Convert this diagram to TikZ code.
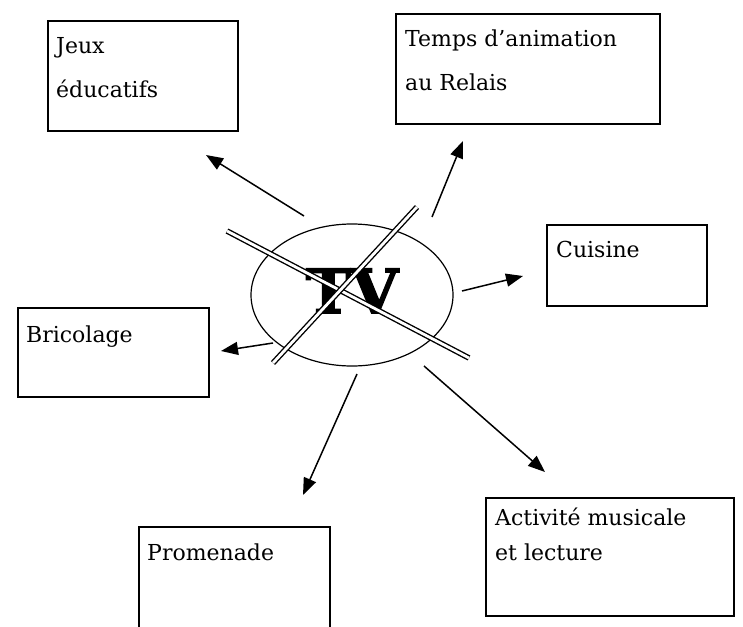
\documentclass[tikz,border=0pt]{standalone}
\usepackage{fontspec}
\setmainfont{DejaVu Serif}
\newfontfamily\tvfont{DejaVu Serif}[FakeBold=2.5]
\usetikzlibrary{arrows.meta}
\definecolor{inkblack}{RGB}{0,0,0}

\tikzset{
  box/.style={draw=inkblack, line width=1.7pt, rectangle, inner sep=0pt, anchor=north west},
  lbl/.style={inkblack, anchor=base west, inner sep=0pt, font=\fontsize{22}{22}\selectfont},
  arr/.style={inkblack, line width=1.5pt, -{Triangle[length=17pt,width=13pt]}},
  cross/.style={inkblack, line width=1.4pt, double=white, double distance=2.8pt}
}

\begin{document}
\begin{tikzpicture}[x=1pt, y=-1pt]
\clip (0,0) rectangle (743,626);
\fill[white] (0,0) rectangle (743,626);
% Boxes
\node[box, minimum width=190pt, minimum height=110pt] (jeux) at (47,20) {};
\node[box, minimum width=264pt, minimum height=110pt] (temps) at (395,13) {};
\node[box, minimum width=160pt, minimum height=81pt] (cuisine) at (546,224) {};
\node[box, minimum width=191pt, minimum height=89pt] (bricolage) at (17,307) {};
\node[box, minimum width=191pt, minimum height=130pt] (promenade) at (138,526) {};
\node[box, minimum width=248pt, minimum height=118pt] (activite) at (485,497) {};
% Box texts
\node[lbl] (jeuxA) at (56,53) {Jeux};
\node[lbl] (jeuxB) at (56,97) {éducatifs};
\node[lbl] (tempsA) at (405,47) {Temps d’animation};
\node[lbl] (tempsB) at (405,90) {au Relais};
\node[lbl] (cuisineA) at (556,257) {Cuisine};
\node[lbl] (bricolageA) at (26,342) {Bricolage};
\node[lbl] (promenadeA) at (147,560) {Promenade};
\node[lbl] (activiteA) at (495,525) {Activité musicale};
\node[lbl] (activiteB) at (495,560) {et lecture};
% TV in the middle
\draw[inkblack, line width=1.2pt] (352,295) ellipse [x radius=101, y radius=71];
\node[inkblack, inner sep=0pt, anchor=base, font=\fontsize{61}{61}\tvfont\bfseries] (tv) at (352,313) {TV};
\coordinate (crossA1) at (227,231);
\coordinate (crossA2) at (469,358);
\coordinate (crossB1) at (273,363);
\coordinate (crossB2) at (417,207);
\draw[cross] (crossA1) -- (crossA2);
\draw[cross] (crossB1) -- (crossB2);
% Arrows
\coordinate (jeuxS) at (304,216);      \coordinate (jeuxE) at (206,155);
\coordinate (tempsS) at (432,217);     \coordinate (tempsE) at (463,141);
\coordinate (cuisineS) at (462,291);   \coordinate (cuisineE) at (523,276);
\coordinate (bricolageS) at (273,343); \coordinate (bricolageE) at (221,351);
\coordinate (promenadeS) at (357,374); \coordinate (promenadeE) at (303,495);
\coordinate (activiteS) at (424,366);  \coordinate (activiteE) at (545,472);
\foreach \a in {jeux,temps,cuisine,bricolage,promenade,activite} {
  \draw[arr] (\a S) -- (\a E);
}
\end{tikzpicture}
\end{document}
